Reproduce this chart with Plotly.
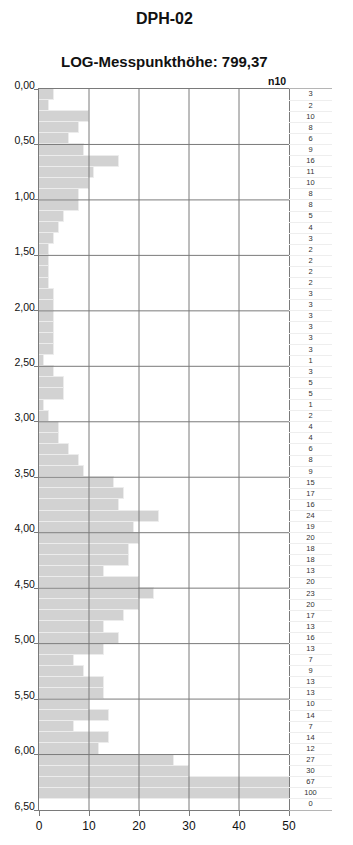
import plotly.graph_objects as go

# n10 blow counts per 0.1 m interval, from 0.00 m to 6.50 m
n10 = [3, 2, 10, 8, 6, 9, 16, 11, 10, 8,
       8, 5, 4, 3, 2, 2, 2, 2, 3, 3,
       3, 3, 3, 3, 1, 3, 5, 5, 1, 2,
       4, 4, 6, 8, 9, 15, 17, 16, 24, 19,
       20, 18, 18, 13, 20, 23, 20, 17, 13, 16,
       13, 7, 9, 13, 13, 10, 14, 7, 14, 12,
       27, 30, 67, 100, 0]
step = 0.1
depth_mid = [round(step * i + step / 2, 3) for i in range(len(n10))]
y_ticks = [0.0, 0.5, 1.0, 1.5, 2.0, 2.5, 3.0, 3.5, 4.0, 4.5, 5.0, 5.5, 6.0, 6.5]
x_ticks = [0, 10, 20, 30, 40, 50]
title = "DPH-02"
subtitle = "LOG-Messpunkthöhe: 799,37"
col_label = "n10"

FONT = "Liberation Sans, Arial, sans-serif"
GRID = "#7a7a7a"
W, H = 353, 845
ML, MR, MT, MB = 39, 21, 89, 35
plot_w = W - ML - MR
split = 250 / plot_w

fig = go.Figure()
fig.add_trace(go.Bar(
    x=n10, y=depth_mid, orientation="h", width=step,
    marker=dict(color="#d2d2d2", line=dict(color="#ececec", width=1)),
    xaxis="x", yaxis="y", showlegend=False, hoverinfo="skip"))
fig.add_trace(go.Scatter(
    x=[0.5] * len(n10), y=depth_mid, mode="text",
    text=[str(v) for v in n10],
    textfont=dict(family=FONT, size=7.5, color="#333"),
    xaxis="x2", yaxis="y2", showlegend=False, hoverinfo="skip"))

shapes = []
for xv in x_ticks[1:-1]:
    shapes.append(dict(type="line", xref="x", yref="y", x0=xv, x1=xv,
                       y0=y_ticks[0], y1=y_ticks[-1], layer="above",
                       line=dict(color=GRID, width=1)))
for yv in y_ticks[1:-1]:
    shapes.append(dict(type="line", xref="x", yref="y", x0=x_ticks[0], x1=x_ticks[-1],
                       y0=yv, y1=yv, layer="above",
                       line=dict(color=GRID, width=1)))

fig.update_layout(
    width=W, height=H, margin=dict(l=ML, r=MR, t=MT, b=MB),
    paper_bgcolor="white", plot_bgcolor="white",
    separators=",.",
    bargap=0,
    font=dict(family=FONT, color="#111"),
    xaxis=dict(domain=[0, split], range=[x_ticks[0], x_ticks[-1]],
               tickvals=x_ticks, ticks="outside", ticklen=5, tickcolor=GRID,
               showgrid=False, zeroline=False, showline=True, mirror=True,
               linecolor=GRID, linewidth=1,
               tickfont=dict(family=FONT, size=12, color="#111")),
    yaxis=dict(range=[y_ticks[-1], y_ticks[0]], tickvals=y_ticks, tickformat=".2f",
               ticks="outside", ticklen=4, tickcolor=GRID,
               showgrid=False, zeroline=False, showline=True, mirror=True,
               linecolor=GRID, linewidth=1, ticklabelshift=4, ticklabelstandoff=-3,
               tickfont=dict(family=FONT, size=10.5, color="#111")),
    xaxis2=dict(domain=[split, 1], range=[0, 1], anchor="y2",
                showticklabels=False, showgrid=False, zeroline=False,
                showline=True, mirror=True, linecolor="#b5b5b5", ticks=""),
    yaxis2=dict(range=[y_ticks[-1], y_ticks[0]], anchor="x2",
                showticklabels=False, dtick=step, showgrid=True, gridcolor="#eeeeee",
                zeroline=False, showline=False, ticks=""),
    shapes=shapes,
    annotations=[
        dict(text=f"<b>{title}</b>", xref="paper", yref="paper", x=125 / plot_w, y=1,
             yshift=71, xanchor="center", yanchor="middle", showarrow=False,
             font=dict(family=FONT, size=16, color="#111")),
        dict(text=f"<b>{subtitle}</b>", xref="paper", yref="paper", x=125 / plot_w, y=1,
             yshift=28, xanchor="center", yanchor="middle", showarrow=False,
             font=dict(family=FONT, size=15, color="#111")),
        dict(text=f"<b>{col_label}</b>", xref="paper", yref="paper", x=split, y=1,
             xshift=-1, xanchor="right", yanchor="bottom", showarrow=False,
             font=dict(family=FONT, size=10.5, color="#111")),
    ],
)
fig.write_html("out.html")
